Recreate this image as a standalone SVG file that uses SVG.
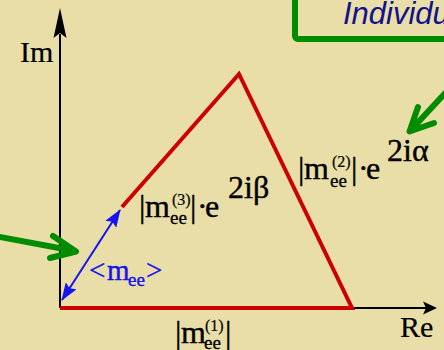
<svg xmlns="http://www.w3.org/2000/svg" width="444" height="350" viewBox="0 0 444 350">
<style>
.t{font-family:"Liberation Serif","Times New Roman",serif;font-size:32px;fill:#000;stroke:#000;stroke-width:0.4}
.ax-l{font-size:30px;stroke-width:0.2}
.sp{font-size:16px;stroke-width:0.2}
.sb{font-size:19px;stroke-width:0.3}
.bl{fill:#1414F0;stroke:#1414F0;font-size:29px}
.bls{fill:#1414F0;stroke:#1414F0;font-size:19px}
.ax{stroke:#000;stroke-width:2;fill:none}
.red{stroke:#CC0000;stroke-width:4;fill:none;stroke-linecap:butt}
.grn{stroke:#008C00;stroke-width:6;fill:none;stroke-linecap:round;stroke-linejoin:round}
</style>
<defs>
<marker id="bh" viewBox="0 0 18 13" refX="17" refY="6.5" markerWidth="18" markerHeight="13" markerUnits="userSpaceOnUse" orient="auto-start-reverse">
<path d="M0,0 L18,6.5 L0,13 L3,6.5 Z" fill="#1414F0"/>
</marker>
</defs>
<rect width="444" height="350" fill="#E9DEA7"/>
<g id="box">
<rect x="295" y="-20" width="200" height="59" rx="3" fill="none" stroke="#008C00" stroke-width="6"/>
<text x="343" y="24" font-family="'Liberation Sans',Arial,sans-serif" font-style="italic" font-size="31" fill="#12128C">Individu</text>
</g>
<g id="axes">
<line class="ax" x1="60" y1="308" x2="60" y2="34"/>
<path d="M60,8 L66.5,38 L60,33 L53.5,38 Z" fill="#000"/>
<line class="ax" x1="60" y1="308" x2="428" y2="308"/>
<path d="M437,308 L423,314.5 L426,308 L423,301.5 Z" fill="#000"/>
<text class="t ax-l" x="20" y="62">Im</text>
<text class="t ax-l" x="400" y="337">Re</text>
</g>
<g id="triangle">
<polyline class="red" points="122,207 239,74 352,308 60,308"/>
</g>
<g id="connectors">
<line x1="120" y1="210" x2="62" y2="300" stroke="#1414F0" stroke-width="2" marker-start="url(#bh)" marker-end="url(#bh)"/>
<path class="grn" d="M-5,236 L75,251 M53,236 L76,251.5 L50,258"/>
<path class="grn" d="M450,88 L410,131 M418,107 L409.5,131.5 L434,123"/>
</g>
<g id="label-m3">
<text class="t" x="139" y="217">|</text>
<text class="t" x="145" y="217">m</text>
<text class="t sp" x="172" y="205">(3)</text>
<text class="t sb" x="170" y="224">ee</text>
<text class="t" x="190" y="217">|</text>
<text class="t" x="197" y="217">·</text>
<text class="t" x="205" y="217">e</text>
<text class="t" x="228" y="198">2iβ</text>
</g>
<g id="label-m2">
<text class="t" x="298" y="179">|</text>
<text class="t" x="304" y="179">m</text>
<text class="t sp" x="332" y="167">(2)</text>
<text class="t sb" x="330" y="187">ee</text>
<text class="t" x="351" y="179">|</text>
<text class="t" x="358" y="179">·</text>
<text class="t" x="366" y="179">e</text>
<text class="t" x="387" y="161">2iα</text>
</g>
<g id="label-m1">
<text class="t" x="175" y="343">|</text>
<text class="t" x="181" y="343">m</text>
<text class="t sp" x="205" y="331">(1)</text>
<text class="t sb" x="204" y="349">ee</text>
<text class="t" x="225" y="343">|</text>
</g>
<g id="label-mee">
<text class="t bl" x="89" y="280">&lt;</text>
<text class="t bl" x="107" y="280">m</text>
<text class="t bls" x="128" y="286">ee</text>
<text class="t bl" x="146" y="280">&gt;</text>
</g>
</svg>
